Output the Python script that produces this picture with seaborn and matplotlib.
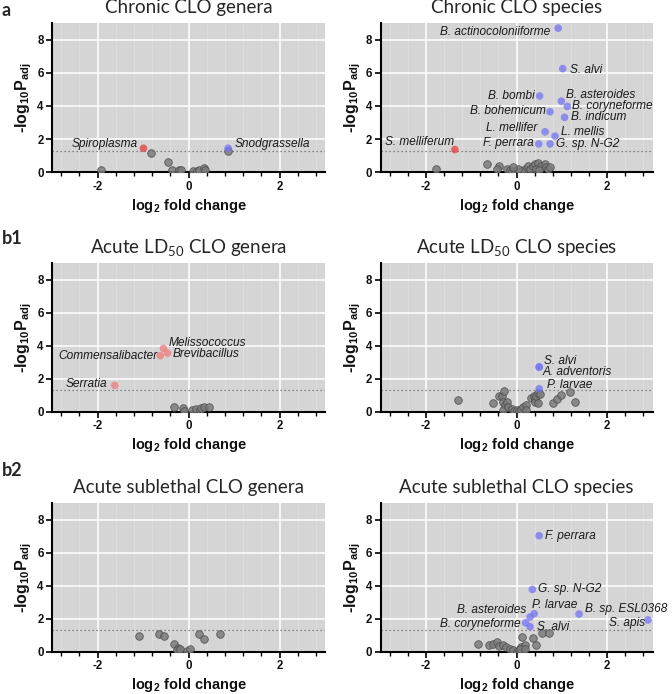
import numpy as np
import pandas as pd
import matplotlib
matplotlib.use("Agg")
import matplotlib.pyplot as plt
import seaborn as sns
from matplotlib.ticker import MultipleLocator

sns.set_theme(style="ticks")
plt.rcParams['font.family'] = ['Liberation Sans', 'DejaVu Sans']
plt.rcParams['mathtext.default'] = 'regular'
plt.rcParams['axes.unicode_minus'] = False

# ---------------- data ----------------
# Chronic CLO genera
a_gen_ns_x = [-1.93, -0.82, -0.44, -0.37, -0.20, -0.16, 0.09, 0.18, 0.24, 0.33, 0.36, 0.86]
a_gen_ns_y = [0.15, 1.15, 0.63, 0.12, 0.12, 0.12, 0.10, 0.10, 0.15, 0.25, 0.12, 1.30]
a_gen_names = ["Spiroplasma", "Snodgrassella"]
a_gen_x = [-0.99, 0.87]
a_gen_y = [1.45, 1.45]
a_gen_dir = ["down", "up"]

# Chronic CLO species
a_sp_ns_x = [-1.78, -0.66, -0.39, -0.44, -0.21, -0.15, -0.10, -0.04, 0.18, 0.26, 0.29, 0.37,
             0.40, 0.48, 0.55, 0.63, 0.66, 0.70, 0.11, 0.04, -0.07, 0.44, 0.50, 0.74]
a_sp_ns_y = [0.18, 0.52, 0.38, 0.18, 0.18, 0.12, 0.10, 0.05, 0.18, 0.38, 0.18, 0.38,
             0.48, 0.55, 0.38, 0.48, 0.34, 0.18, 0.10, 0.22, 0.30, 0.18, 0.12, 0.30]
a_sp_names = ["B. actinocoloniiforme", "S. alvi", "B. bombi", "B. asteroides", "B. coryneforme",
              "B. bohemicum", "B. indicum", "L. mellifer", "L. mellis", "F. perrara",
              "G. sp. N-G2", "S. melliferum"]
a_sp_x = [0.92, 1.02, 0.51, 0.99, 1.12, 0.74, 1.06, 0.63, 0.85, 0.49, 0.74, -1.36]
a_sp_y = [8.69, 6.25, 4.60, 4.29, 3.97, 3.65, 3.31, 2.44, 2.18, 1.71, 1.71, 1.37]
a_sp_dir = ["up"] * 11 + ["down"]

# Acute LD50 CLO genera
b1_gen_ns_x = [-0.31, -0.11, -0.10, 0.08, 0.16, 0.25, 0.27, 0.35, 0.46]
b1_gen_ns_y = [0.28, 0.20, 0.06, 0.10, 0.18, 0.10, 0.22, 0.30, 0.30]
b1_gen_names = ["Melissococcus", "Brevibacillus", "Commensalibacter", "Serratia"]
b1_gen_x = [-0.55, -0.46, -0.62, -1.62]
b1_gen_y = [3.83, 3.55, 3.39, 1.59]
b1_gen_dir = ["down"] * 4

# Acute LD50 CLO species
b1_sp_ns_x = [-1.30, -0.52, -0.39, -0.33, -0.28, -0.30, -0.26, -0.22, -0.30, -0.19, -0.11, -0.06,
              0.00, 0.06, 0.11, 0.15, 0.20, 0.22, 0.33, 0.38, 0.41, 0.40, 0.44, 0.47, 0.52,
              0.48, 0.80, 0.89, 0.99, 1.18, 1.29]
b1_sp_ns_y = [0.71, 0.51, 0.93, 0.95, 1.26, 0.61, 0.41, 0.61, 0.10, 0.30, 0.15, 0.07,
              0.10, 0.07, 0.15, 0.30, 0.40, 0.10, 0.85, 0.95, 0.75, 0.60, 0.95, 1.13, 1.10,
              0.55, 0.55, 0.78, 1.00, 1.20, 0.60]
b1_sp_names = ["S. alvi", "A. adventoris", "P. larvae"]
b1_sp_x = [0.50, 0.50, 0.50]
b1_sp_y = [2.72, 2.69, 1.39]
b1_sp_dir = ["up"] * 3

# Acute sublethal CLO genera
b2_gen_ns_x = [-1.08, -0.65, -0.53, -0.32, -0.24, -0.26, -0.18, -0.03, 0.04, 0.24, 0.34, 0.70]
b2_gen_ns_y = [0.97, 1.10, 0.98, 0.45, 0.24, 0.10, 0.14, 0.05, 0.14, 1.10, 0.79, 1.10]

# Acute sublethal CLO species
b2_sp_ns_x = [-0.84, -0.60, -0.52, -0.42, -0.39, -0.30, -0.23, -0.15, -0.08, 0.00, 0.06, 0.11,
              0.14, 0.13, 0.19, 0.36, 0.43, 0.57, 0.72, 0.07, 0.19]
b2_sp_ns_y = [0.46, 0.40, 0.47, 0.61, 0.33, 0.41, 0.27, 0.15, 0.10, 0.00, 0.10, 0.27,
              0.15, 0.87, 0.40, 0.85, 0.38, 1.11, 1.11, 0.16, 0.14]
b2_sp_names = ["F. perrara", "G. sp. N-G2", "P. larvae", "B. asteroides", "B. coryneforme",
               "S. alvi", "B. sp. ESL0368", "S. apis"]
b2_sp_x = [0.50, 0.35, 0.39, 0.30, 0.20, 0.30, 1.38, 2.90]
b2_sp_y = [7.02, 3.77, 2.30, 2.10, 1.75, 1.51, 2.28, 1.92]
b2_sp_dir = ["up"] * 8

x_ticks = [-2, 0, 2]
y_ticks = [0, 2, 4, 6, 8]
threshold = 1.3

# ---------------- style ----------------
RED = "#e83c3c"
RED_LIGHT = "#ee7a7a"
BLUE = "#7474f4"
GREY = "#7c7c7c"

# label offsets (pixels) and alignment
offsets = {
    "Spiroplasma": (-6, 4, "right"), "Snodgrassella": (7, 4, "left"),
    "B. actinocoloniiforme": (-8, -4, "right"), "S. alvi|a": (7, -1, "left"),
    "B. bombi": (-5, 0, "right"), "B. asteroides|a": (5, 6, "left"),
    "B. coryneforme|a": (5, 0, "left"), "B. bohemicum": (-4, 1, "right"),
    "B. indicum": (6, 0, "left"), "L. mellifer": (-8, 4, "right"),
    "L. mellis": (6, 4, "left"), "F. perrara|a": (-5, 1, "right"),
    "G. sp. N-G2|a": (6, 0, "left"), "S. melliferum": (-1, 8, "right"),
    "Melissococcus": (5, 5, "left"), "Brevibacillus": (5, -1, "left"),
    "Commensalibacter": (-3, 0, "right"), "Serratia": (-8, 1, "right"),
    "S. alvi|b1": (5, 6, "left"), "A. adventoris": (3, -5, "left"),
    "P. larvae|b1": (8, 4, "left"),
    "F. perrara|b2": (6, 0, "left"), "G. sp. N-G2|b2": (6, 0, "left"),
    "P. larvae|b2": (-2, 9, "left"), "B. asteroides|b2": (-4, 7, "right"),
    "B. coryneforme|b2": (-5, -1, "right"), "S. alvi|b2": (7, 0, "left"),
    "B. sp. ESL0368": (6, 5, "left"), "S. apis": (-3, -3, "right"),
}

W, H = 672, 694
fig = plt.figure(figsize=(W / 100, H / 100), dpi=100)

col_l = [52 / W, 273 / W]
col_r = [380.5 / W, 272 / W]
rows = [(172.3, 149.3), (411.7, 148.7), (651.7, 148.7)]

TICKFONT = dict(fontsize=8.3, fontweight="bold", family=["Liberation Sans", "DejaVu Sans"],
                color="#111111")


def make_ax(col, row):
    b, h = row
    return fig.add_axes([col[0], 1 - b / H, col[1], h / H])


def panel(ax, title, ns_x, ns_y, names=(), sx=(), sy=(), sdir=(), key="", red=RED):
    ax.set_facecolor("#d5d5d5")
    ax.set_axisbelow(True)
    ax.xaxis.set_minor_locator(MultipleLocator(0.4))
    ax.grid(True, which="minor", axis="x", color="#dedede", lw=0.7)
    ax.grid(True, which="major", color="white", lw=1.1)
    ax.axhline(threshold, ls=(0, (1, 2.2)), color="#6a6a6a", lw=0.9, zorder=1.5)
    df_ns = pd.DataFrame({"lfc": ns_x, "p": ns_y})
    sns.scatterplot(data=df_ns, x="lfc", y="p", color=GREY, s=30, alpha=0.85,
                    edgecolor="#4a4a4a", linewidth=0.6, ax=ax, zorder=3)
    if len(names):
        df_s = pd.DataFrame({"lfc": list(sx), "p": list(sy), "dir": list(sdir)})
        sns.scatterplot(data=df_s, x="lfc", y="p", hue="dir",
                        palette={"down": red, "up": BLUE}, s=30, alpha=0.75,
                        edgecolor="none", linewidth=0, ax=ax, legend=False, zorder=4)
        for n, x, y in zip(names, sx, sy):
            k = n + "|" + key if (n + "|" + key) in offsets else n
            dx, dy, ha = offsets[k]
            ax.annotate(n, (x, y), xytext=(dx, dy), textcoords="offset pixels",
                        ha=ha, va="center", fontsize=8.6, fontstyle="italic",
                        color="#1a1a1a", zorder=5)
    ax.set_xlim(-3, 3)
    ax.set_ylim(0, 9)
    ax.set_xticks(x_ticks)
    ax.set_xticklabels([str(v) for v in x_ticks], **TICKFONT)
    ax.set_yticks(y_ticks)
    ax.set_yticklabels([str(v) for v in y_ticks], **TICKFONT)
    for s in ["top", "right"]:
        ax.spines[s].set_visible(False)
    for s in ["left", "bottom"]:
        ax.spines[s].set_color("black")
        ax.spines[s].set_linewidth(1.5)
    ax.tick_params(which="major", direction="out", length=4, width=1.2, color="black", pad=2)
    ax.tick_params(which="minor", axis="x", direction="out", length=3, width=1.0, color="black")
    ax.tick_params(which="minor", axis="y", length=0)
    ax.set_xlabel("log$_2$ fold change", fontsize=10.5, fontweight="bold", labelpad=3,
                  color="#111111")
    ax.set_ylabel("-log$_{10}$P$_{adj}$", fontsize=11.5, fontweight="bold", labelpad=2,
                  color="#111111")
    ax.set_title(title, fontsize=13.5, family=["Lato", "DejaVu Sans"], pad=7)


ax1 = make_ax(col_l, rows[0])
panel(ax1, "Chronic CLO genera", a_gen_ns_x, a_gen_ns_y, a_gen_names, a_gen_x, a_gen_y, a_gen_dir, "a")
ax2 = make_ax(col_r, rows[0])
panel(ax2, "Chronic CLO species", a_sp_ns_x, a_sp_ns_y, a_sp_names, a_sp_x, a_sp_y, a_sp_dir, "a")
ax3 = make_ax(col_l, rows[1])
panel(ax3, "Acute LD$_{50}$ CLO genera", b1_gen_ns_x, b1_gen_ns_y, b1_gen_names, b1_gen_x, b1_gen_y,
      b1_gen_dir, "b1", red=RED_LIGHT)
ax4 = make_ax(col_r, rows[1])
panel(ax4, "Acute LD$_{50}$ CLO species", b1_sp_ns_x, b1_sp_ns_y, b1_sp_names, b1_sp_x, b1_sp_y,
      b1_sp_dir, "b1")
ax5 = make_ax(col_l, rows[2])
panel(ax5, "Acute sublethal CLO genera", b2_gen_ns_x, b2_gen_ns_y)
ax6 = make_ax(col_r, rows[2])
panel(ax6, "Acute sublethal CLO species", b2_sp_ns_x, b2_sp_ns_y, b2_sp_names, b2_sp_x, b2_sp_y,
      b2_sp_dir, "b2")

for lbl, yy in [("a", 10), ("b1", 239), ("b2", 470)]:
    fig.text(2 / W, 1 - yy / H, lbl, fontsize=13, fontweight="bold", va="center", ha="left",
             family=["Lato", "DejaVu Sans"])

fig.savefig("out.png", dpi=100)
